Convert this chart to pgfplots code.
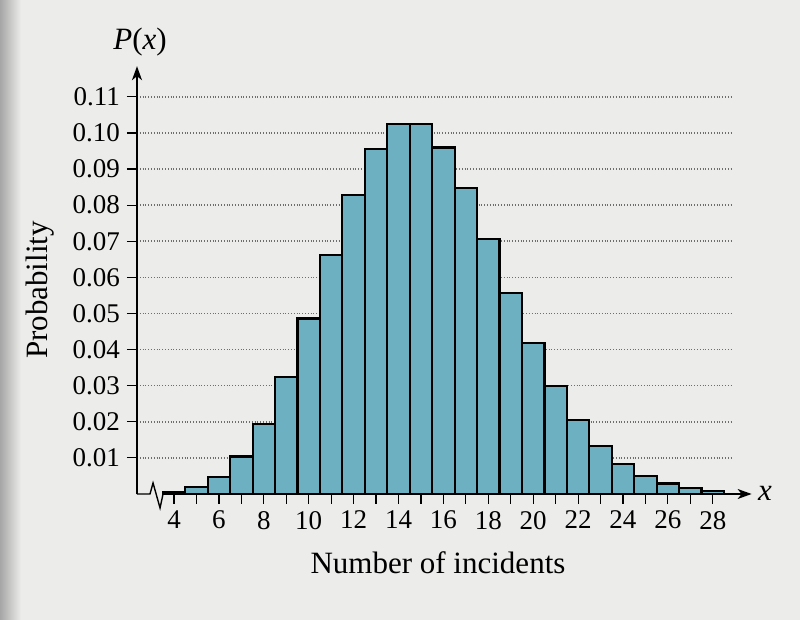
\documentclass[border=0pt]{standalone}
\usepackage{pgfplots}
\pgfplotsset{compat=1.18}
\usepackage{fontspec}
\setmainfont{Liberation Serif}
\usetikzlibrary{arrows.meta}
\definecolor{paper}{RGB}{236,236,234}
\definecolor{barfill}{RGB}{108,176,194}
\definecolor{gridc}{RGB}{110,110,110}
\pgfplotstableread{
x p
4 0.0006
5 0.0019
6 0.0048
7 0.0104
8 0.0194
9 0.0324
10 0.0486
11 0.0663
12 0.0829
13 0.0956
14 0.1024
15 0.1024
16 0.0960
17 0.0847
18 0.0706
19 0.0557
20 0.0418
21 0.0299
22 0.0204
23 0.0133
24 0.0083
25 0.0050
26 0.0029
27 0.0016
28 0.0009
}\datatable
\begin{document}
\begin{tikzpicture}
\path[use as bounding box, fill=paper] (-68.5pt,-63pt) rectangle (331.5pt,247pt);
\shade[left color=gray!70, right color=paper] (-68.5pt,-63pt) rectangle (-58pt,247pt);
\begin{axis}[
  at={(0,0)}, anchor=south west,
  scale only axis,
  width=298pt, height=213pt,
  xmin=2.35, xmax=28.9,
  ymin=0, ymax=0.118,
  clip=false,
  axis lines=left,
  axis line style={draw=none},
  xtick={4,6,...,28},
  minor xtick={5,7,...,27},
  ytick={0.01,0.02,...,0.111},
  ymajorgrids,
  grid style={gridc, densely dotted, line width=0.8pt},
  x tick style={black, line width=0.6pt},
  y tick style={black, line width=0.6pt},
  xtick align=outside,
  ytick align=outside,
  major tick length=5pt,
  minor tick length=5pt,
  /pgf/number format/assume math mode=true,
  yticklabel style={/pgf/number format/.cd, fixed, fixed zerofill, precision=2},
  tick label style={font=\fontsize{13.5}{15}\selectfont},
  xlabel={Number of incidents},
  label style={font=\fontsize{15.5}{18}\selectfont},
  xlabel style={at={(axis description cs:0.5,0)}, anchor=center, yshift=-34.5pt, xshift=1.5pt},
]
\addplot[ybar, bar width=1, bar shift=0pt, fill=barfill, draw=black, line width=1.1pt] table[x=x, y=p] {\datatable};
\draw[black, line width=0.7pt, -{Stealth[length=7pt, width=5pt, inset=2pt]}] (axis cs:2.35,0) -- (axis cs:2.35,0.1185);
\draw[black, line width=0.7pt] (axis cs:2.35,0) -- (axis cs:2.93,0) -- (axis cs:3.065,0.00305) -- (axis cs:3.377,-0.00388) -- (axis cs:3.51,0);
\draw[black, line width=0.7pt, -{Stealth[length=7pt, width=5pt, inset=2pt]}] (axis cs:3.51,0) -- (axis cs:29.73,0);
\end{axis}
\node[font=\fontsize{15.5}{18}\selectfont, rotate=90] at (-48.5pt,102pt) {Probability};
\node[font=\fontsize{15.5}{18}\selectfont] at (1.5pt,226pt) {\textit{P}(\textit{x})};
\node[font=\fontsize{15.5}{18}\selectfont] at (314pt,0.5pt) {\textit{x}};
\end{tikzpicture}
\end{document}
